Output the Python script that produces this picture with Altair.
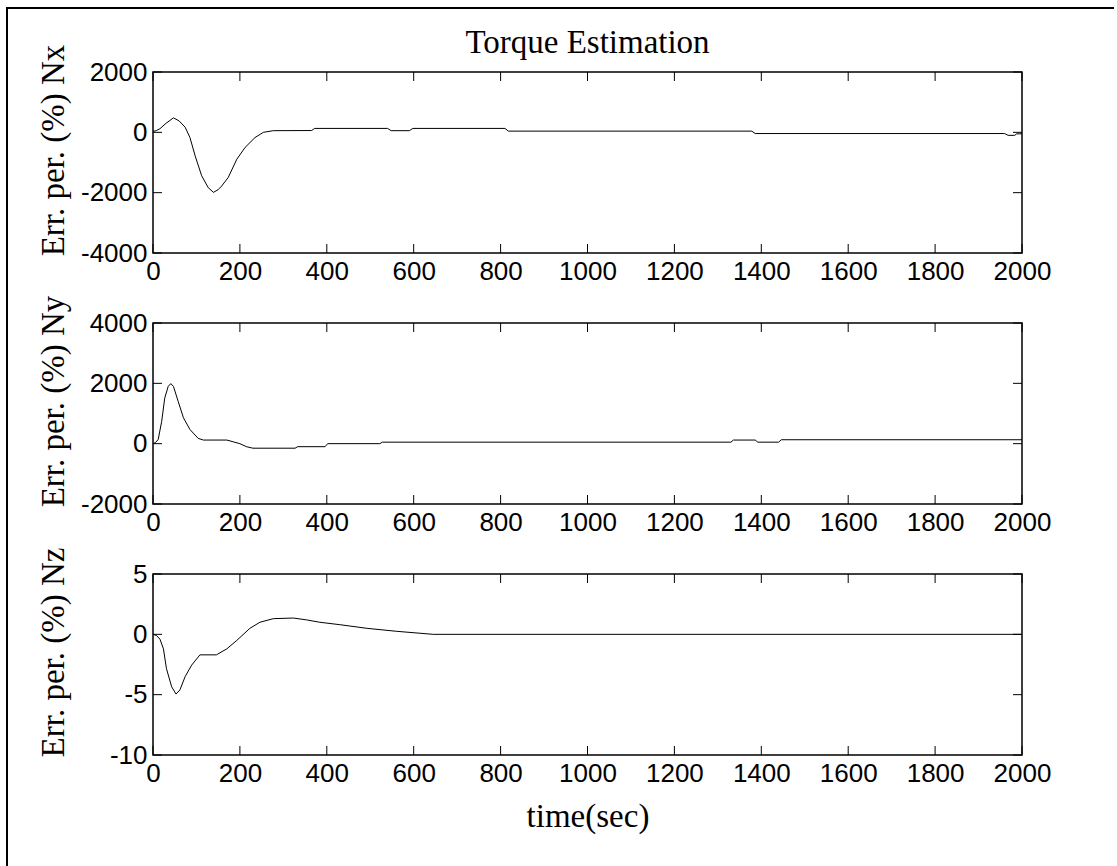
import altair as alt
import pandas as pd

# ---- data ----
t_nx = [0, 8, 16, 30, 47, 60, 74, 85, 97, 112, 127, 139, 150, 158, 173, 193, 212, 235, 254, 277,
        365, 372, 540, 548, 590, 598, 810, 818, 1378, 1386, 1960, 1968, 1983, 1988, 2000]
v_nx = [30, 60, 120, 300, 480, 380, 170, -170, -780, -1440, -1830, -1990, -1900, -1780, -1500, -890,
        -500, -170, 0, 55, 60, 130, 130, 55, 55, 130, 130, 40, 40, -40, -40, -100, -100, -50, -50]

t_ny = [0, 6, 12, 20, 27, 35, 41, 47, 58, 70, 85, 104, 116, 170, 185, 200, 215, 230, 327, 333,
        396, 402, 522, 528, 1330, 1336, 1386, 1392, 1440, 1446, 2000]
v_ny = [0, 40, 140, 740, 1510, 1900, 1990, 1900, 1400, 860, 470, 175, 120, 120, 60, 0, -100, -150,
        -150, -100, -100, 0, 0, 50, 50, 120, 120, 50, 50, 130, 130]

t_nz = [0, 8, 16, 24, 31, 43, 53, 62, 74, 89, 108, 146, 170, 193, 223, 246, 277, 323, 353, 384,
        430, 492, 561, 645, 2000]
v_nz = [0, -0.1, -0.4, -1.2, -2.85, -4.35, -4.95, -4.6, -3.5, -2.55, -1.7, -1.7, -1.2, -0.5, 0.5,
        1.0, 1.3, 1.35, 1.2, 1.0, 0.8, 0.5, 0.25, 0.0, 0.0]

x_ticks = [0, 200, 400, 600, 800, 1000, 1200, 1400, 1600, 1800, 2000]
nx_ticks = [-4000, -2000, 0, 2000]
ny_ticks = [-2000, 0, 2000, 4000]
nz_ticks = [-10, -5, 0, 5]

main_title = "Torque Estimation"

W, H = 869, 181
TICK = 9


def panel(t, v, yticks, ylabel, xtitle=None, title=None, border=False):
    df = pd.DataFrame({"t": t, "v": v})
    xscale = alt.Scale(domain=[x_ticks[0], x_ticks[-1]], nice=False, zero=False)
    yscale = alt.Scale(domain=[yticks[0], yticks[-1]], nice=False, zero=False)
    xaxis_kw = dict(values=x_ticks, ticks=False, domain=False, grid=False,
                    labelPadding=5, labelFlush=False, labelOverlap=False,
                    labelExpr="'' + datum.value")
    if xtitle:
        xaxis_kw.update(title=xtitle, titleY=71, titleBaseline="alphabetic")
    else:
        xaxis_kw.update(title=None)
    xaxis = alt.Axis(**xaxis_kw)
    yaxis = alt.Axis(values=yticks, ticks=False, domain=False, grid=False,
                     labelPadding=6, labelOverlap=False, labelFlush=False,
                     labelExpr="'' + datum.value", title=ylabel,
                     titleX=-90, titleY=78, titleBaseline="alphabetic", titleAlign="center")
    line = alt.Chart(df).mark_line(color="black", strokeWidth=1).encode(
        x=alt.X("t:Q", scale=xscale, axis=xaxis),
        y=alt.Y("v:Q", scale=yscale, axis=yaxis),
    )
    xt = pd.DataFrame({"t": x_ticks})
    yt = pd.DataFrame({"v": yticks})
    top_t = alt.Chart(xt).mark_rule(color="black", strokeWidth=1).encode(
        x="t:Q", y=alt.value(0), y2=alt.value(TICK))
    bot_t = alt.Chart(xt).mark_rule(color="black", strokeWidth=1).encode(
        x="t:Q", y=alt.value(H), y2=alt.value(H - TICK))
    left_t = alt.Chart(yt).mark_rule(color="black", strokeWidth=1).encode(
        y="v:Q", x=alt.value(0), x2=alt.value(TICK))
    right_t = alt.Chart(yt).mark_rule(color="black", strokeWidth=1).encode(
        y="v:Q", x=alt.value(W - TICK), x2=alt.value(W))
    layers = [line, top_t, bot_t, left_t, right_t]
    if border:
        one = pd.DataFrame({"a": [0]})
        vline = alt.Chart(one).mark_rule(color="black", strokeWidth=2).encode(
            x=alt.value(-146), y=alt.value(-65), y2=alt.value(794))
        hline = alt.Chart(one).mark_rule(color="black", strokeWidth=2).encode(
            x=alt.value(-147), x2=alt.value(961), y=alt.value(-64))
        layers += [vline, hline]
    if title:
        one = pd.DataFrame({"a": [0]})
        ttl = alt.Chart(one).mark_text(
            font="Liberation Serif", fontSize=33, color="black", baseline="alphabetic",
            align="center", text=title).encode(x=alt.value(W / 2), y=alt.value(-19))
        layers.append(ttl)
    return alt.layer(*layers).properties(width=W, height=H)


p1 = panel(t_nx, v_nx, nx_ticks, "Err. per. (%) Nx", title=main_title, border=True)
p2 = panel(t_ny, v_ny, ny_ticks, "Err. per. (%) Ny")
p3 = panel(t_nz, v_nz, nz_ticks, "Err. per. (%) Nz", xtitle="time(sec)")

chart = alt.vconcat(p1, p2, p3, spacing=70, bounds="flush").properties(
    padding={"left": 4, "top": 5, "right": 0, "bottom": 0},
    background="white",
).configure_view(
    stroke="black", strokeWidth=1.5
).configure_axis(
    labelFont="Liberation Sans", labelFontSize=26, labelColor="black",
    titleFont="Liberation Serif", titleFontSize=33, titleFontWeight="normal", titleColor="black"
)

chart.save("out.html", embed_options={"renderer": "svg", "actions": False})
